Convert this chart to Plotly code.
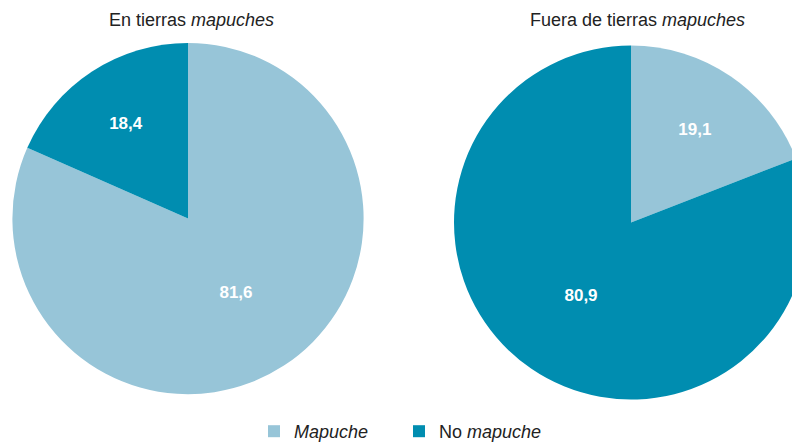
import plotly.graph_objects as go

labels = ["<i>Mapuche</i>", "No <i>mapuche</i>"]
en_tierras = [81.6, 18.4]
fuera_tierras = [19.1, 80.9]
titles = ["En tierras <i>mapuches</i>", "Fuera de tierras <i>mapuches</i>"]

colors = ["#97C5D8", "#008DB0"]

W, H = 800, 442
# the page puts the figure 8px in from the top-left corner
OFF = 8

fig = go.Figure()

fig.add_trace(go.Pie(
    labels=labels,
    values=en_tierras,
    sort=False,
    direction="clockwise",
    rotation=0,
    marker=dict(colors=colors),
    texttemplate="<b>%{value:.1f}</b>",
    textposition="inside",
    insidetextfont=dict(color="white", size=17, family="Liberation Sans"),
    hoverinfo="label+value",
    domain=dict(x=[(12 - OFF) / W, (364 - OFF) / W],
                y=[1 - (395 - OFF) / H, 1 - (43 - OFF) / H]),
))

fig.add_trace(go.Pie(
    labels=labels,
    values=fuera_tierras,
    sort=False,
    direction="clockwise",
    rotation=0,
    marker=dict(colors=colors),
    texttemplate="<b>%{value:.1f}</b>",
    textposition="inside",
    insidetextfont=dict(color="white", size=17, family="Liberation Sans"),
    hoverinfo="label+value",
    domain=dict(x=[(454 - OFF) / W, 1.0],
                y=[1 - (401 - OFF) / H, 1 - (45 - OFF) / H]),
))

fig.add_annotation(text=titles[0], x=(191 - OFF) / W, y=1 - (20 - OFF) / H,
                   xref="paper", yref="paper", xanchor="center", yanchor="middle",
                   showarrow=False, font=dict(size=18, color="#222222"))
fig.add_annotation(text=titles[1], x=(637 - OFF) / W, y=1 - (20 - OFF) / H,
                   xref="paper", yref="paper", xanchor="center", yanchor="middle",
                   showarrow=False, font=dict(size=18, color="#222222"))

fig.update_layout(
    width=W,
    height=H,
    separators=",.",
    paper_bgcolor="white",
    plot_bgcolor="white",
    margin=dict(l=0, r=0, t=0, b=0),
    font=dict(family="Liberation Sans, Arial, sans-serif", size=18, color="#222222"),
    showlegend=True,
    legend=dict(
        orientation="h",
        x=(254 - OFF) / W,
        xanchor="left",
        y=1 - (432 - OFF) / H,
        yanchor="middle",
        font=dict(size=18),
        entrywidth=100,
        traceorder="normal",
    ),
)

fig.write_html("out.html")
